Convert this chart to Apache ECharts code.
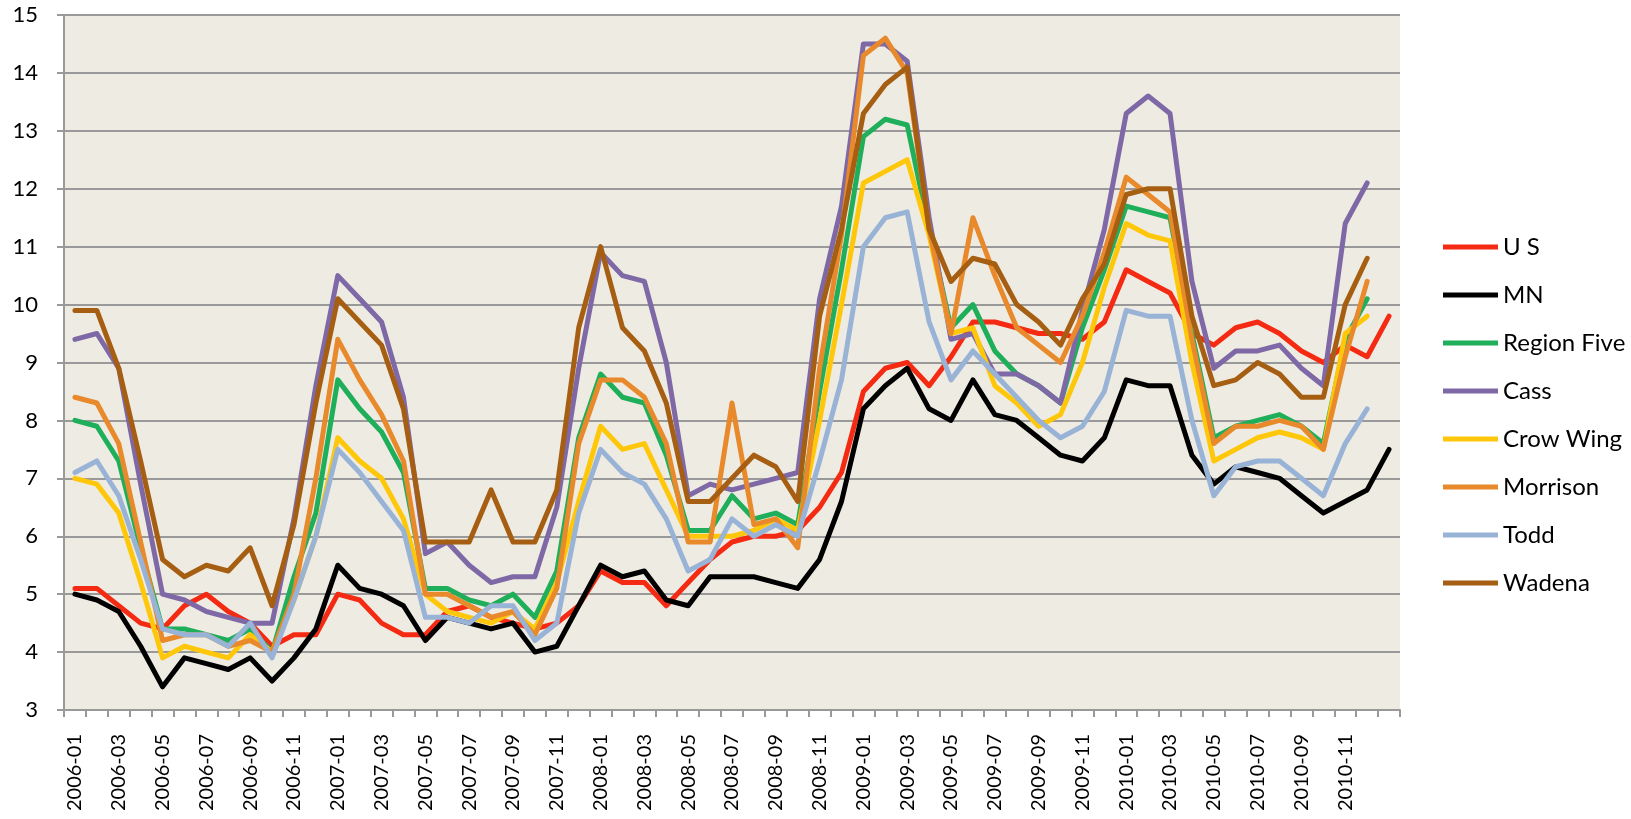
<!DOCTYPE html>
<html>
<head>
<meta charset="utf-8">
<script src="https://cdn.jsdelivr.net/npm/echarts@6/dist/echarts.min.js"></script>
<style>
html,body{margin:0;padding:0;background:#fff;}
#c{width:1631px;height:819px;}
</style>
</head>
<body>
<div id="c"></div>
<script>
const categories = [
 '2006-01','2006-02','2006-03','2006-04','2006-05','2006-06','2006-07','2006-08','2006-09','2006-10','2006-11','2006-12',
 '2007-01','2007-02','2007-03','2007-04','2007-05','2007-06','2007-07','2007-08','2007-09','2007-10','2007-11','2007-12',
 '2008-01','2008-02','2008-03','2008-04','2008-05','2008-06','2008-07','2008-08','2008-09','2008-10','2008-11','2008-12',
 '2009-01','2009-02','2009-03','2009-04','2009-05','2009-06','2009-07','2009-08','2009-09','2009-10','2009-11','2009-12',
 '2010-01','2010-02','2010-03','2010-04','2010-05','2010-06','2010-07','2010-08','2010-09','2010-10','2010-11','2010-12',
 '2011-01'
];
const yTicks = [3,4,5,6,7,8,9,10,11,12,13,14,15];

const US = [
 5.1,5.1,4.8,4.5,4.4,4.8,5.0,4.7,4.5,4.1,4.3,4.3,
 5.0,4.9,4.5,4.3,4.3,4.7,4.8,4.6,4.5,4.4,4.5,4.8,
 5.4,5.2,5.2,4.8,5.2,5.6,5.9,6.0,6.0,6.1,6.5,7.1,
 8.5,8.9,9.0,8.6,9.1,9.7,9.7,9.6,9.5,9.5,9.4,9.7,
 10.6,10.4,10.2,9.5,9.3,9.6,9.7,9.5,9.2,9.0,9.3,9.1,
 9.8
];
const MN = [
 5.0,4.9,4.7,4.1,3.4,3.9,3.8,3.7,3.9,3.5,3.9,4.4,
 5.5,5.1,5.0,4.8,4.2,4.6,4.5,4.4,4.5,4.0,4.1,4.8,
 5.5,5.3,5.4,4.9,4.8,5.3,5.3,5.3,5.2,5.1,5.6,6.6,
 8.2,8.6,8.9,8.2,8.0,8.7,8.1,8.0,7.7,7.4,7.3,7.7,
 8.7,8.6,8.6,7.4,6.9,7.2,7.1,7.0,6.7,6.4,6.6,6.8,
 7.5
];
const RegionFive = [
 8.0,7.9,7.3,5.8,4.4,4.4,4.3,4.2,4.4,4.0,5.3,6.4,
 8.7,8.2,7.8,7.1,5.1,5.1,4.9,4.8,5.0,4.6,5.4,7.7,
 8.8,8.4,8.3,7.4,6.1,6.1,6.7,6.3,6.4,6.2,8.5,10.6,
 12.9,13.2,13.1,11.3,9.6,10.0,9.2,8.8,8.6,8.3,9.6,10.6,
 11.7,11.6,11.5,9.5,7.7,7.9,8.0,8.1,7.9,7.6,9.4,10.1
];
const Cass = [
 9.4,9.5,8.9,6.9,5.0,4.9,4.7,4.6,4.5,4.5,6.3,8.6,
 10.5,10.1,9.7,8.4,5.7,5.9,5.5,5.2,5.3,5.3,6.5,8.9,
 10.9,10.5,10.4,9.0,6.7,6.9,6.8,6.9,7.0,7.1,10.1,11.7,
 14.5,14.5,14.2,11.5,9.4,9.5,8.8,8.8,8.6,8.3,9.9,11.3,
 13.3,13.6,13.3,10.4,8.9,9.2,9.2,9.3,8.9,8.6,11.4,12.1
];
const CrowWing = [
 7.0,6.9,6.4,5.2,3.9,4.1,4.0,3.9,4.3,4.0,4.9,6.0,
 7.7,7.3,7.0,6.3,5.0,4.7,4.6,4.5,4.7,4.4,5.2,6.6,
 7.9,7.5,7.6,6.8,6.0,6.0,6.0,6.1,6.3,6.1,8.0,10.0,
 12.1,12.3,12.5,11.2,9.5,9.6,8.6,8.3,7.9,8.1,9.0,10.3,
 11.4,11.2,11.1,9.0,7.3,7.5,7.7,7.8,7.7,7.5,9.5,9.8
];
const Morrison = [
 8.4,8.3,7.6,5.9,4.2,4.3,4.3,4.1,4.2,4.0,5.0,7.0,
 9.4,8.7,8.1,7.3,5.0,5.0,4.8,4.6,4.7,4.3,5.1,7.6,
 8.7,8.7,8.4,7.6,5.9,5.9,8.3,6.2,6.3,5.8,8.9,11.2,
 14.3,14.6,14.0,11.3,9.5,11.5,10.5,9.6,9.3,9.0,9.8,10.9,
 12.2,11.9,11.6,9.4,7.6,7.9,7.9,8.0,7.9,7.5,9.1,10.4
];
const Todd = [
 7.1,7.3,6.7,5.6,4.4,4.3,4.3,4.1,4.5,3.9,4.9,6.0,
 7.5,7.1,6.6,6.1,4.6,4.6,4.5,4.8,4.8,4.2,4.5,6.4,
 7.5,7.1,6.9,6.3,5.4,5.6,6.3,6.0,6.2,6.0,7.3,8.7,
 11.0,11.5,11.6,9.7,8.7,9.2,8.8,8.4,8.0,7.7,7.9,8.5,
 9.9,9.8,9.8,8.0,6.7,7.2,7.3,7.3,7.0,6.7,7.6,8.2
];
const Wadena = [
 9.9,9.9,8.9,7.3,5.6,5.3,5.5,5.4,5.8,4.8,6.2,8.3,
 10.1,9.7,9.3,8.2,5.9,5.9,5.9,6.8,5.9,5.9,6.8,9.6,
 11.0,9.6,9.2,8.3,6.6,6.6,7.0,7.4,7.2,6.6,9.8,11.3,
 13.3,13.8,14.1,11.3,10.4,10.8,10.7,10.0,9.7,9.3,10.1,10.7,
 11.9,12.0,12.0,9.8,8.6,8.7,9.0,8.8,8.4,8.4,10.0,10.8
];

const seriesDefs = [
 {name:'U S', data:US, color:'#F52A13'},
 {name:'MN', data:MN, color:'#000000'},
 {name:'Region Five', data:RegionFive, color:'#1FAF5A'},
 {name:'Cass', data:Cass, color:'#7E68A6'},
 {name:'Crow Wing', data:CrowWing, color:'#FFC709'},
 {name:'Morrison', data:Morrison, color:'#E8892B'},
 {name:'Todd', data:Todd, color:'#98B3D6'},
 {name:'Wadena', data:Wadena, color:'#A65F12'}
];

const FONT = 'Lato';
const chart = echarts.init(document.getElementById('c'), null, {renderer:'canvas'});
chart.setOption({
  animation:false,
  backgroundColor:'#ffffff',
  grid:{left:64, top:15, right:231, bottom:109, show:true, backgroundColor:'#EEEBE3', borderWidth:0},
  legend:{
    orient:'vertical', left:1438, top:230,
    icon:'rect', itemWidth:55, itemHeight:5, itemGap:24,
    textStyle:{fontFamily:FONT, fontSize:24, color:'#000', lineHeight:24},
    data: seriesDefs.map(s=>s.name)
  },
  xAxis:{
    type:'category', data:categories, boundaryGap:true,
    axisLine:{show:true, lineStyle:{color:'#999999', width:2}},
    axisTick:{show:true, interval:0, length:7, lineStyle:{color:'#999999', width:2}},
    axisLabel:{
      rotate:90, margin:24, fontFamily:FONT, fontSize:20, color:'#000',
      interval:function(i){return i%2===0 && i<60;}
    },
    splitLine:{show:false}
  },
  yAxis:{
    type:'value', min:yTicks[0], max:yTicks[yTicks.length-1], interval:1,
    axisLine:{show:true, lineStyle:{color:'#999999', width:2}},
    axisTick:{show:true, length:7, lineStyle:{color:'#999999', width:2}},
    axisLabel:{margin:26, fontFamily:FONT, fontSize:22, color:'#000'},
    splitLine:{show:true, lineStyle:{color:'#999999', width:2}}
  },
  series: seriesDefs.map(s=>({
    name:s.name, type:'line', data:s.data, symbol:'none', showSymbol:false,
    color:s.color,
    lineStyle:{color:s.color, width:5, cap:'round', join:'round'},
    itemStyle:{color:s.color},
    emphasis:{disabled:true}
  }))
});
</script>
</body>
</html>
